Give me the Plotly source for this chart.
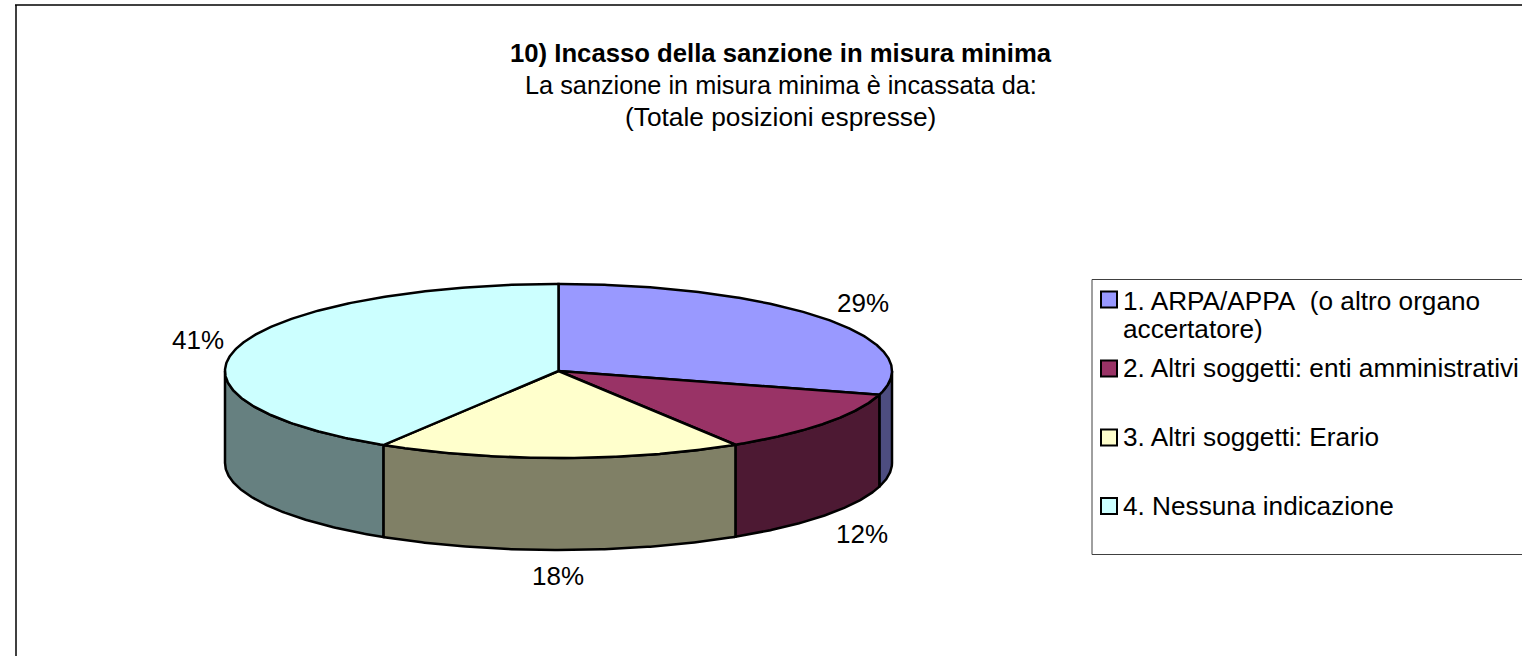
import numpy as np
import plotly.graph_objects as go

# ---- data ----
categories = ["1. ARPA/APPA (o altro organo accertatore)", "2. Altri soggetti: enti amministrativi",
              "3. Altri soggetti: Erario", "4. Nessuna indicazione"]
values = [29.4, 11.7, 17.7, 41.2]
top_colors = ["#9999FF", "#993366", "#FFFFCC", "#CCFFFF"]
side_colors = ["#4D4D80", "#4D1933", "#808066", "#668080"]
legend_lines = [["1. ARPA/APPA\u00a0 (o altro organo", "accertatore)"],
                ["2. Altri soggetti: enti amministrativi"],
                ["3. Altri soggetti: Erario"],
                ["4. Nessuna indicazione"]]
title_lines = ["<b>10) Incasso della sanzione in misura minima</b>",
               "La sanzione in misura minima è incassata da:",
               "(Totale posizioni espresse)"]

# ---- layout constants (pixel space of the page) ----
W, H = 1522, 656
CX, CY, RX, RY, DEPTH = 558.5, 371, 333.5, 87, 92
FONT = "Liberation Sans, Arial, sans-serif"
INK = "#000000"
LW = 2.5


def ell(theta, dy=0.0):
    return CX + RX * np.sin(theta), CY - RY * np.cos(theta) + dy


fig = go.Figure()
total = sum(values)
edges = np.cumsum([0] + values) / total * 2 * np.pi

# side walls (only the front half, theta between 90 and 270 degrees)
for i, name in enumerate(categories):
    a = max(edges[i], np.pi / 2)
    b = min(edges[i + 1], 3 * np.pi / 2)
    if b <= a:
        continue
    t = np.linspace(a, b, 120)
    xt, yt = ell(t)
    xb, yb = ell(t[::-1], DEPTH)
    fig.add_trace(go.Scatter(
        x=np.r_[xt, xb, xt[0]], y=np.r_[yt, yb, yt[0]], mode="lines", fill="toself",
        fillcolor=side_colors[i], line=dict(color=INK, width=LW), name=name,
        showlegend=False, hoverinfo="skip"))

# top faces
for i, name in enumerate(categories):
    t = np.linspace(edges[i], edges[i + 1], 240)
    xt, yt = ell(t)
    fig.add_trace(go.Scatter(
        x=np.r_[CX, xt, CX], y=np.r_[CY, yt, CY], mode="lines", fill="toself",
        fillcolor=top_colors[i], line=dict(color=INK, width=LW), name=name,
        showlegend=False, hoverinfo="text", text=f"{name}: {round(values[i])}%"))

annotations = []


def text(x, y, s, size=26, anchor="center"):
    annotations.append(dict(x=x, y=y, xref="x", yref="y", text=s, showarrow=False,
                            xanchor=anchor, yanchor="middle",
                            font=dict(family=FONT, size=size, color=INK)))


# percentage labels
label_pos = [(863, 303), (862, 534), (558, 576), (198, 340)]
for v, (x, y) in zip(values, label_pos):
    text(x, y, f"{round(v)}%")

# title
for s, y, size in zip(title_lines, [53, 85, 117], [25.7, 25.3, 26.3]):
    text(780.5, y, s, size=size)

# frame and legend
shapes = [
    dict(type="line", x0=16, x1=16, y0=5, y1=H + 5, line=dict(color="#404040", width=2)),
    dict(type="line", x0=15, x1=W + 5, y0=5, y1=5, line=dict(color=INK, width=1.5)),
    dict(type="rect", x0=1092, x1=W + 20, y0=279.5, y1=554.5, line=dict(color="#404040", width=1),
         fillcolor="white", layer="below"),
]
swatch_y = [299.5, 368.5, 437.5, 506]
for col, y in zip(top_colors, swatch_y):
    shapes.append(dict(type="rect", x0=1101, x1=1117, y0=y - 8, y1=y + 8,
                       fillcolor=col, line=dict(color=INK, width=2)))
legend_y = [[301, 329], [368], [437], [506]]
for lines, ys in zip(legend_lines, legend_y):
    for s, y in zip(lines, ys):
        text(1121, y, s, size=26.2, anchor="left")

fig.update_layout(
    width=W, height=H, margin=dict(l=0, r=0, t=0, b=0),
    paper_bgcolor="white", plot_bgcolor="white", showlegend=False,
    xaxis=dict(range=[0, W], visible=False, fixedrange=True),
    yaxis=dict(range=[H, 0], visible=False, fixedrange=True),
    annotations=annotations, shapes=shapes,
)
fig.write_html("out.html", config={"displayModeBar": False},
               post_script="document.body.style.margin='0';document.body.style.overflow='hidden';")
